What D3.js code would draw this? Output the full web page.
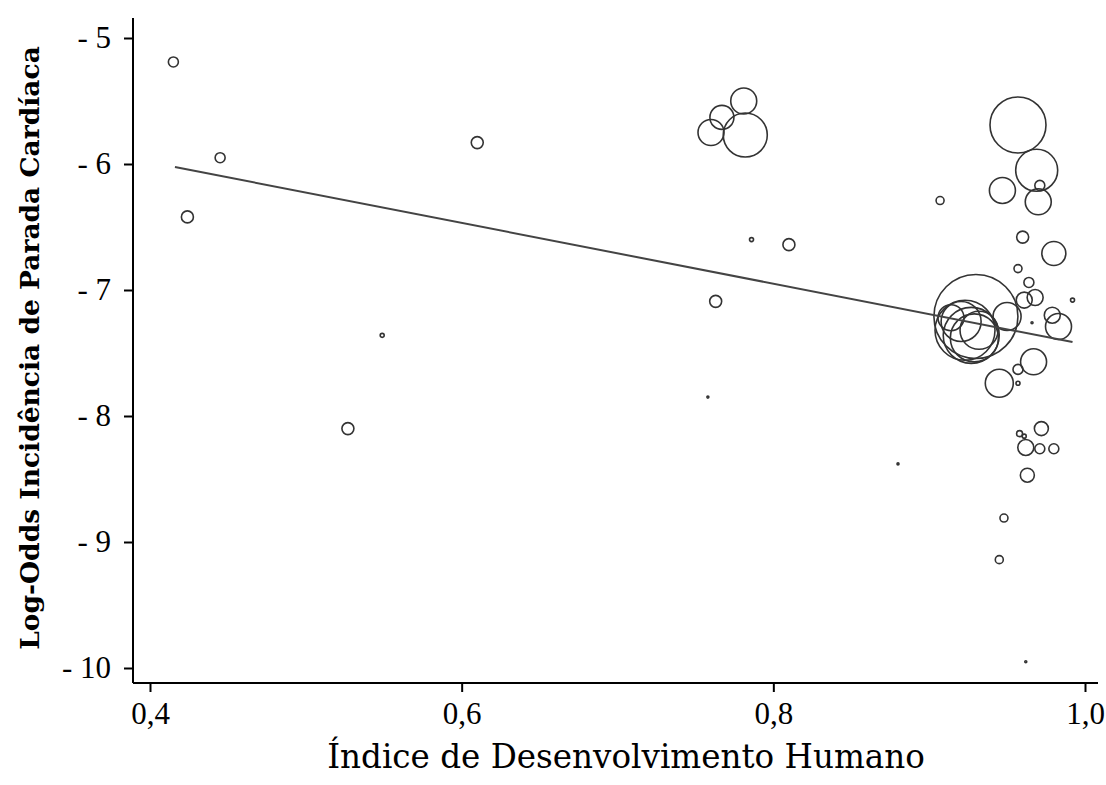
<!DOCTYPE html>
<html>
<head>
<meta charset="utf-8">
<script src="https://cdn.jsdelivr.net/npm/d3@7"></script>
<style>
  html, body { margin: 0; padding: 0; background: #fff; }
  svg { display: block; }
</style>
</head>
<body>
<svg id="chart" width="1106" height="785"></svg>
<script>
// Human Development Index per study/country
const hdi = [
  0.415, 0.424, 0.445, 0.527, 0.549, 0.610, 0.758, 0.763,
  0.781, 0.767, 0.760, 0.782, 0.786, 0.810, 0.880, 0.907,
  0.957, 0.969, 0.947, 0.971, 0.970, 0.960, 0.980, 0.957,
  0.964, 0.968, 0.961, 0.992, 0.930, 0.923, 0.927, 0.929,
  0.9205, 0.932, 0.914, 0.950, 0.966, 0.979, 0.983, 0.967,
  0.957, 0.945, 0.957, 0.972, 0.958, 0.961, 0.962, 0.971,
  0.980, 0.963, 0.948, 0.945, 0.962
];
// Log-odds of cardiac arrest incidence
const logOdds = [
  -5.19, -6.42, -5.95, -8.10, -7.36, -5.83, -7.85, -7.09,
  -5.50, -5.63, -5.75, -5.77, -6.60, -6.64, -8.38, -6.29,
  -5.69, -6.05, -6.21, -6.17, -6.30, -6.58, -6.71, -6.83,
  -6.94, -7.06, -7.08, -7.08, -7.21, -7.32, -7.36, -7.38,
  -7.25, -7.32, -7.22, -7.21, -7.26, -7.20, -7.29, -7.57,
  -7.63, -7.74, -7.74, -8.10, -8.14, -8.16, -8.25, -8.26,
  -8.26, -8.47, -8.81, -9.14, -9.95
];
// Relative study weight (marker area)
const weight = [
  25, 36, 25, 36, 4, 36, 1, 36,
  169, 144, 169, 484, 4, 36, 1, 16,
  784, 441, 169, 25, 169, 36, 144, 16,
  25, 64, 64, 4, 1764, 900, 784, 576,
  400, 361, 169, 196, 1, 64, 169, 169,
  25, 196, 4, 49, 9, 4, 64, 25,
  25, 49, 16, 16, 1
];
// Fitted meta-regression line endpoints
const fitX = [0.416, 0.992];
const fitY = [-6.024, -7.413];

const xTicks = [0.4, 0.6, 0.8, 1.0];
const yTicks = [-5, -6, -7, -8, -9, -10];
const xTitle = "Índice de Desenvolvimento Humano";
const yTitle = "Log-Odds Incidência de Parada Cardíaca";

const svg = d3.select("#chart");
const serif = "'DejaVu Serif', 'Liberation Serif', serif";
const tickFont = "'Liberation Serif', 'DejaVu Serif', serif";

const axisX0 = 133, axisY0 = 683;
const x = d3.scaleLinear().domain([0.4, 1.0]).range([150, 1085]);
const y = d3.scaleLinear().domain([-5, -10]).range([38, 668]);
const r = d3.scaleSqrt().domain([0, d3.max(weight)]).range([0, 42]);

const pts = hdi.map((v, i) => ({ x: v, y: logOdds[i], w: weight[i] }));

// bubbles
svg.append("g")
  .selectAll("circle")
  .data(pts)
  .join("circle")
  .attr("cx", d => x(d.x))
  .attr("cy", d => y(d.y))
  .attr("r", d => Math.max(1, r(d.w)))
  .attr("fill", "none")
  .attr("stroke", "#333")
  .attr("stroke-width", 1.6);

// fitted line
svg.append("path")
  .datum(fitX.map((v, i) => [v, fitY[i]]))
  .attr("d", d3.line().x(d => x(d[0])).y(d => y(d[1])))
  .attr("fill", "none")
  .attr("stroke", "#444")
  .attr("stroke-width", 2);

// y axis
const yAxis = svg.append("g")
  .attr("transform", `translate(${axisX0},0)`)
  .call(d3.axisLeft(y).tickValues(yTicks).tickSize(9).tickPadding(13)
    .tickFormat(d => "- " + Math.abs(d)));
yAxis.select(".domain").attr("d", `M0,18V${axisY0}`).attr("stroke", "#000").attr("stroke-width", 2);
yAxis.selectAll(".tick line").attr("stroke", "#000").attr("stroke-width", 2);
yAxis.selectAll(".tick text").attr("font-family", tickFont).attr("font-size", 31).attr("fill", "#000");

// x axis
const xAxis = svg.append("g")
  .attr("transform", `translate(0,${axisY0})`)
  .call(d3.axisBottom(x).tickValues(xTicks).tickSize(9).tickPadding(10)
    .tickFormat(d => d3.format(".1f")(d).replace(".", ",")));
xAxis.select(".domain").attr("d", `M${axisX0},0H1098`).attr("stroke", "#000").attr("stroke-width", 2);
xAxis.selectAll(".tick line").attr("stroke", "#000").attr("stroke-width", 2);
xAxis.selectAll(".tick text").attr("font-family", tickFont).attr("font-size", 31).attr("fill", "#000");

// titles
svg.append("text")
  .attr("x", 626).attr("y", 768)
  .attr("text-anchor", "middle")
  .attr("font-family", serif).attr("font-size", 32.6)
  .attr("fill", "#000")
  .text(xTitle);

svg.append("text")
  .attr("transform", "translate(39,348) rotate(-90)")
  .attr("text-anchor", "middle")
  .attr("font-family", serif).attr("font-size", 26.5).attr("font-weight", "bold")
  .attr("fill", "#000")
  .text(yTitle);
</script>
</body>
</html>
